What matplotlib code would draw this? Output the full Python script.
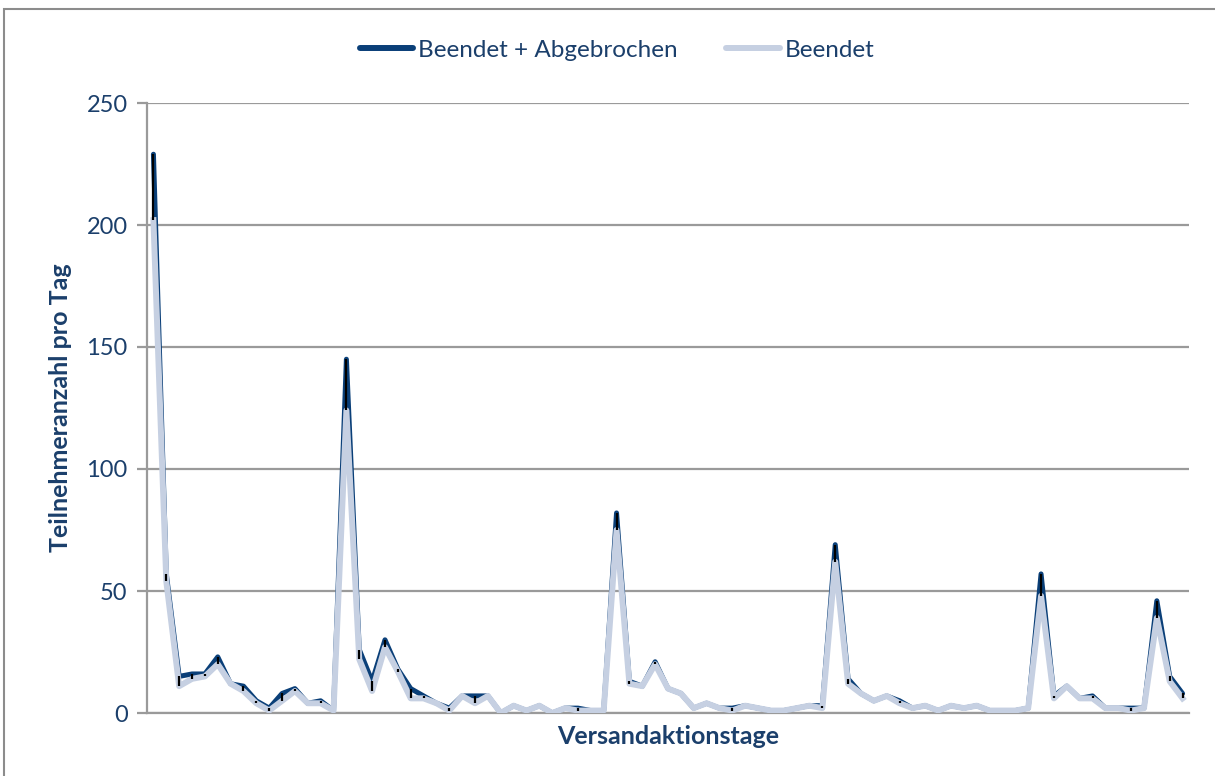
"""Teilnehmer pro Versandaktionstag: beendete und abgebrochene Befragungen."""

import matplotlib

matplotlib.use("Agg")
import matplotlib.pyplot as plt
from matplotlib.patches import Rectangle


OUTPUT_FILE = "out.png"

# Werte (ein Wert pro Versandaktionstag).
beendet_abgebrochen = [
    229, 57, 15, 16, 16, 23, 12, 11, 5, 2, 8, 10, 4, 5, 1,
    145, 26, 13, 30, 18, 10, 7, 4, 2, 7, 7, 7, 0, 3, 1, 3, 0, 2, 2, 1, 1,
    82, 13, 11, 21, 10, 8, 2, 4, 2, 2, 3, 2, 1, 1, 2, 3, 3,
    69, 14, 8, 5, 7, 5, 2, 3, 1, 3, 2, 3, 1, 1, 1, 2,
    57, 7, 11, 6, 7, 2, 2, 2, 2,
    46, 15, 8,
]
beendet = [
    202, 54, 11, 14, 15, 20, 12, 9, 4, 1, 5, 9, 4, 4, 1,
    124, 22, 9, 27, 17, 6, 6, 4, 1, 7, 4, 7, 0, 3, 1, 3, 0, 2, 1, 1, 1,
    75, 12, 11, 20, 10, 8, 2, 4, 2, 1, 3, 2, 1, 1, 2, 3, 2,
    62, 12, 8, 5, 7, 4, 2, 3, 1, 3, 2, 3, 1, 1, 1, 2,
    48, 6, 11, 6, 6, 2, 2, 1, 2,
    39, 13, 6,
]
y_ticks = [0, 50, 100, 150, 200, 250]

DUNKEL = "#0A3F78"
HELL = "#C6D0E2"
TEXT = "#1B3F6B"
GITTER = "#9A9A9A"
SCHRIFT = ["Lato", "DejaVu Sans"]


def zeichne_diagramm(path: str) -> None:
    """Erzeugt das Liniendiagramm mit Hoch-Tief-Linien."""
    fig = plt.figure(figsize=(12.15, 7.76), dpi=100)
    ax = fig.add_axes([147 / 1215, 1 - 713 / 776, 1042 / 1215, 610 / 776])

    tage = list(range(len(beendet_abgebrochen)))

    ax.plot(tage, beendet_abgebrochen, color=DUNKEL, lw=3.6,
            solid_joinstyle="round", solid_capstyle="round", zorder=3,
            label="Beendet + Abgebrochen")
    ax.plot(tage, beendet, color=HELL, lw=4.3,
            solid_joinstyle="round", zorder=4, label="Beendet")
    # Hoch-Tief-Linien zwischen beiden Reihen
    ax.vlines(tage, beendet, beendet_abgebrochen, color="black",
              lw=1.6, zorder=5)

    ax.set_xlim(-0.5, len(tage) - 0.5)
    ax.set_ylim(0, 250)
    ax.set_yticks(y_ticks)
    ax.set_xticks([])
    ax.yaxis.grid(True, color=GITTER, lw=1.6)
    ax.set_axisbelow(True)

    for seite in ("top", "right"):
        ax.spines[seite].set_visible(False)
    for seite in ("left", "bottom"):
        ax.spines[seite].set_color(GITTER)
        ax.spines[seite].set_linewidth(1.6)

    ax.tick_params(axis="y", length=7, width=1.6, color=GITTER,
                   labelcolor=TEXT, labelsize=17, pad=7)
    for lbl in ax.get_yticklabels():
        lbl.set_family(SCHRIFT)

    ax.set_xlabel("Versandaktionstage", fontsize=18, fontweight="bold",
                  color=TEXT, family=SCHRIFT, va="center")
    ax.set_ylabel("Teilnehmeranzahl pro Tag", fontsize=18, fontweight="bold",
                  color=TEXT, family=SCHRIFT, va="center")
    ax.xaxis.set_label_coords((668 - 147) / 1042, (713 - 737) / 610)
    ax.yaxis.set_label_coords((61 - 147) / 1042, 0.5)

    leg = fig.legend(loc="center", bbox_to_anchor=(617 / 1215, 1 - 50 / 776),
                     ncol=2, frameon=False, handlelength=2.2,
                     handletextpad=0.2, columnspacing=2.0,
                     prop={"family": SCHRIFT, "size": 17.5})
    for text in leg.get_texts():
        text.set_color(TEXT)
    for linie in leg.get_lines():
        linie.set_linewidth(4.3)
        linie.set_solid_capstyle("round")

    # Rahmen um das Diagramm
    fig.patches.append(Rectangle((4 / 1215, -0.1), 1.2, 1 - 9 / 776 + 0.1,
                                 transform=fig.transFigure, fill=False,
                                 edgecolor="#8C8C8C", lw=1.5))

    fig.savefig(path, dpi=100)
    plt.close(fig)


def main() -> None:
    zeichne_diagramm(OUTPUT_FILE)


if __name__ == "__main__":
    main()
